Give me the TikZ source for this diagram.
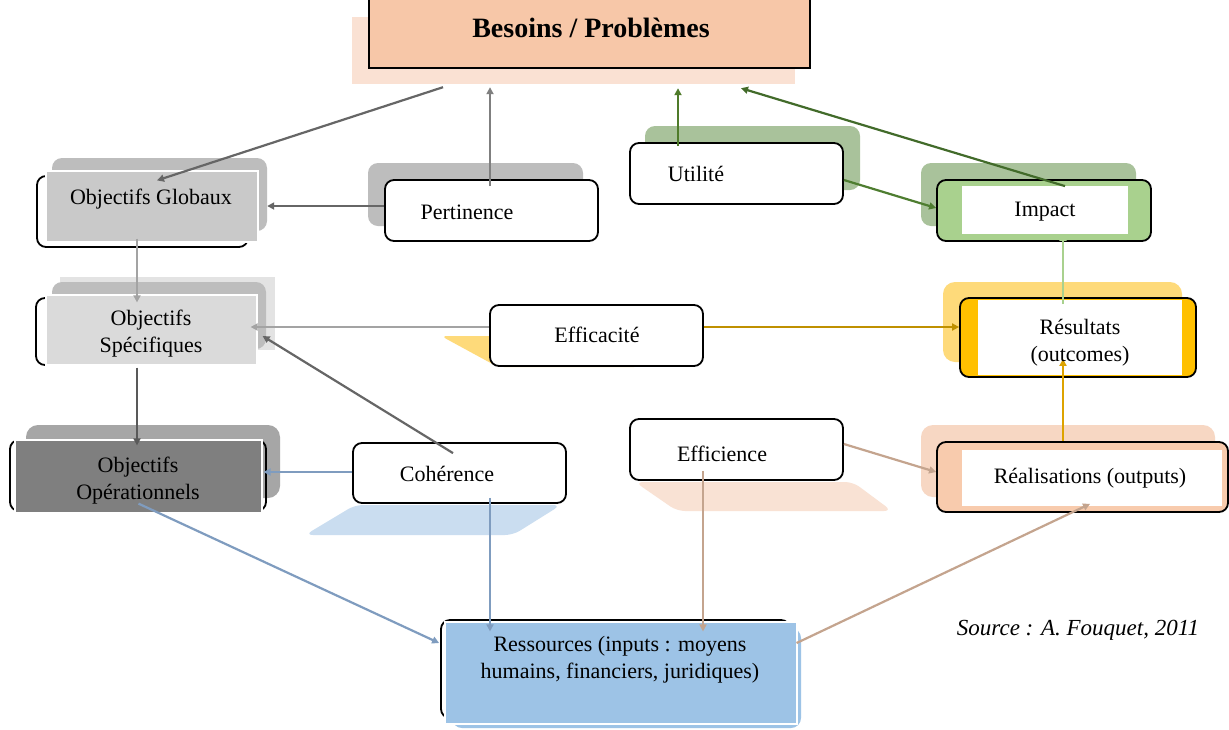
\documentclass[tikz,border=0pt]{standalone}
\usepackage{fontspec}
\setmainfont{Liberation Serif}
\usetikzlibrary{arrows.meta,calc}
\definecolor{peach}{HTML}{F7C7A8}
\definecolor{peachL}{HTML}{FAE1D3}
\definecolor{grA}{HTML}{BDBDBD}
\definecolor{grB}{HTML}{C9C9C9}
\definecolor{grC}{HTML}{E3E3E3}
\definecolor{grD}{HTML}{DADADA}
\definecolor{grE}{HTML}{A6A6A6}
\definecolor{grF}{HTML}{7F7F7F}
\definecolor{olive}{HTML}{A9C29B}
\definecolor{lgreen}{HTML}{A9D18E}
\definecolor{yelL}{HTML}{FEDA7A}
\definecolor{gold}{HTML}{FFC000}
\definecolor{realS}{HTML}{F7D7C3}
\definecolor{realF}{HTML}{F8CBAD}
\definecolor{cohP}{HTML}{CADDF0}
\definecolor{efiP}{HTML}{F9E2D4}
\definecolor{blueF}{HTML}{9DC3E6}
\definecolor{aDark}{HTML}{666666}
\definecolor{aMid}{HTML}{7F7F7F}
\definecolor{aLight}{HTML}{A3A3A3}
\definecolor{aDarker}{HTML}{595959}
\definecolor{gUp}{HTML}{4F7B2A}
\definecolor{gImp}{HTML}{426B2A}
\definecolor{gSide}{HTML}{4E7D30}
\definecolor{aGold}{HTML}{BF9000}
\definecolor{aOr}{HTML}{DDA300}
\definecolor{aBlue}{HTML}{7F9CBF}
\definecolor{aTan}{HTML}{C4A48E}
\begin{document}
\begin{tikzpicture}[x=1pt,y=-1pt,
  sh/.style={inner sep=0pt, rounded corners=10pt},
  bx/.style={inner sep=0pt, draw=black, line width=1.8pt, rounded corners=9pt},
  fr/.style={inner sep=0pt, draw=white, line width=1.2pt},
  tx/.style={inner sep=0pt, font=\fontsize{22}{27}\selectfont, align=center},
  ar/.style={line width=2.2pt, -{Triangle[length=7pt,width=7pt]}},
]
\useasboundingbox[fill=white] (0,0) rectangle (1229,729);

% ---------- Besoins / Problemes
\node[inner sep=0pt, fill=peachL, minimum width=443pt, minimum height=67pt] (besS) at (573.5,50.5) {};
\node[inner sep=0pt, draw=black, line width=1.8pt, fill=peach, minimum width=441pt, minimum height=76pt] (bes) at (589.5,30) {};

% ---------- Objectifs Globaux
\node[sh, fill=grA, minimum width=215pt, minimum height=73pt] (ogS) at (159.5,194.5) {};
\node[bx, minimum width=211pt, minimum height=71pt] (ogB) at (142.5,211.5) {};
\node[fr, fill=grB, minimum width=212pt, minimum height=71pt] (og) at (152,206.5) {};

% ---------- Objectifs Specifiques
\node[inner sep=0pt, fill=grC, minimum width=215pt, minimum height=73pt] (osL) at (167.5,313.5) {};
\node[sh, fill=grA, minimum width=214pt, minimum height=67pt] (osS) at (159,315.5) {};
\node[bx, minimum width=211pt, minimum height=67pt] (osB) at (141.5,331.5) {};
\node[fr, fill=grD, minimum width=211pt, minimum height=70pt] (os) at (151.5,330) {};

% ---------- Objectifs Operationnels
\node[sh, rounded corners=12pt, fill=grE, minimum width=254pt, minimum height=73pt] (ooS) at (153,461.5) {};
\node[bx, minimum width=256pt, minimum height=71pt] (ooB) at (138,475.5) {};
\node[fr, fill=grF, minimum width=247pt, minimum height=73pt] (oo) at (138.5,476.5) {};

% ---------- Pertinence
\node[sh, fill=grA, minimum width=215pt, minimum height=63pt] (pertS) at (475.5,194.5) {};
\node[bx, fill=white, minimum width=213pt, minimum height=61pt] (pert) at (491.5,210.5) {};

% ---------- Utilite
\node[sh, fill=olive, minimum width=215pt, minimum height=64pt] (utilS) at (752.5,158) {};
\node[bx, fill=white, minimum width=213pt, minimum height=61pt] (util) at (736.5,173.5) {};

% ---------- Impact
\node[sh, fill=olive, minimum width=215pt, minimum height=63pt] (impS) at (1028.5,194.5) {};
\node[bx, fill=lgreen, minimum width=214pt, minimum height=61pt] (imp) at (1044,210.5) {};
\node[inner sep=0pt, fill=white, minimum width=166pt, minimum height=48pt] (impW) at (1045,210) {};

% ---------- Resultats
\node[sh, rounded corners=12pt, fill=yelL, minimum width=239pt, minimum height=80pt] (resS) at (1062.5,322) {};
\node[bx, fill=gold, minimum width=236pt, minimum height=79pt] (res) at (1078,337.5) {};
\node[inner sep=0pt, fill=white, minimum width=204pt, minimum height=75pt] (resW) at (1080,337.5) {};

% ---------- Realisations
\node[sh, rounded corners=12pt, fill=realS, minimum width=294pt, minimum height=72pt] (realSh) at (1068,461) {};
\node[bx, fill=realF, minimum width=291pt, minimum height=70pt] (real) at (1082.5,477) {};
\node[inner sep=0pt, fill=white, minimum width=260pt, minimum height=56pt] (realW) at (1092,478) {};

% ---------- Efficacite
\fill[yelL, rounded corners=6pt] (441,336) -- (640,336) -- (640,367) -- (498,367) -- cycle;
\node[bx, fill=white, minimum width=213pt, minimum height=61pt] (effic) at (596.5,335.5) {};

% ---------- Coherence
\fill[cohP, rounded corners=8pt] (355,505) -- (561,505) -- (513,535) -- (305,535) -- cycle;
\node[bx, fill=white, minimum width=213pt, minimum height=60pt] (coh) at (459.5,473) {};

% ---------- Efficience
\fill[efiP, rounded corners=8pt] (635,482) -- (853,482) -- (892,511) -- (677,511) -- cycle;
\node[bx, fill=white, minimum width=213pt, minimum height=61pt] (efi) at (736.5,449.5) {};

% ---------- Ressources
\node[sh, fill=blueF, minimum width=349pt, minimum height=100pt] (ressS) at (626.5,678) {};
\node[bx, minimum width=349pt, minimum height=98pt] (ressB) at (615.5,669) {};
\node[fr, fill=blueF, minimum width=352pt, minimum height=102pt] (ress) at (621,673) {};

% ---------- connectors
\draw[ar, aDark] ([xshift=-130.5pt,yshift=-3pt]besS.south) -- ([xshift=5pt,yshift=-10pt]og.north);
\draw[ar, aMid] ([xshift=-1.5pt,yshift=-7pt]pert.north) -- ([xshift=-83.5pt,yshift=-3pt]besS.south);
\draw[ar, aDark] ([yshift=4.5pt]pert.west) -- ([yshift=4.5pt]pert.west -| ogS.east);
\draw[ar, gUp] ([xshift=-58.5pt,yshift=-4pt]util.north) -- ([xshift=104.5pt,yshift=-4pt]besS.south);
\draw[ar, gImp] ([xshift=21pt,yshift=-7pt]imp.north) -- ([xshift=167.5pt,yshift=-4pt]besS.south);
\draw[ar, gSide] ([yshift=-6.5pt]util.east) -- ([yshift=2.5pt]imp.west);
\draw[ar, aLight] ([xshift=-15pt,yshift=4pt]og.south) -- ([xshift=-14.5pt,yshift=-8pt]os.north);
\draw[ar, aLight] ([yshift=8.5pt]effic.west) -- ([xshift=-7pt,yshift=3pt]os.east);
\draw[ar, aDark] ([xshift=-6.5pt,yshift=-11pt]coh.north) -- ([xshift=5pt,yshift=-6pt]os.east);
\draw[ar, aGold] ([yshift=8.5pt]effic.east) -- ([yshift=8.5pt]effic.east -| res.west);
\draw[ar, lgreen] ([xshift=-15pt,yshift=-7pt]res.north) -- ([xshift=19pt,yshift=8pt]imp.south);
\draw[ar, aDarker] ([xshift=-14.5pt,yshift=-2pt]os.south) -- ([xshift=-1.5pt,yshift=-6pt]oo.north);
\draw[ar, aBlue] ([yshift=1pt]coh.west) -- ([xshift=1pt,yshift=4.5pt]oo.east);
\draw[ar, aOr] ([xshift=-19.5pt]real.north) -- ([xshift=-15pt,yshift=19pt]res.south);
\draw[ar, aTan] ([yshift=5.5pt]efi.east) -- ([yshift=5pt]real.west);
\draw[ar, aBlue] ([yshift=10pt]oo.south) -- ([xshift=-1pt,yshift=26pt]ressB.west);
\draw[ar, aBlue] ([xshift=30.5pt,yshift=6pt]coh.south) -- ([xshift=-131pt,yshift=-10pt]ress.north);
\draw[ar, aTan] ([xshift=-33.5pt,yshift=10pt]efi.south) -- ([xshift=82pt,yshift=-10pt]ress.north);
\draw[ar, aTan] ([xshift=-1pt,yshift=30pt]ress.east) -- ([xshift=7.5pt,yshift=9pt]real.south);

% ---------- texts
\node[inner sep=0pt, font=\fontsize{28}{32}\selectfont\bfseries] (besT) at (591,28) {Besoins / Problèmes};
\node[tx] (ogT) at (151,199) {Objectifs Globaux};
\node[tx] (osT) at (151,334) {Objectifs\\Spécifiques};
\node[tx] (ooT) at (138,481) {Objectifs\\Opérationnels};
\node[tx] (pertT) at (467,212) {Pertinence};
\node[tx] (utilT) at (696,174) {Utilité};
\node[tx] (impT) at (1045,212) {Impact};
\node[tx] (resT) at (1080,343) {Résultats\\(outcomes)};
\node[tx] (realT) at (1090,478) {Réalisations (outputs)};
\node[tx] (efficT) at (597,335) {Efficacité};
\node[tx] (cohT) at (447,474) {Cohérence};
\node[tx] (efiT) at (722,454) {Efficience};
\node[tx] (ressT) at (620,660) {Ressources (inputs : moyens\\humains, financiers, juridiques)};
\node[inner sep=0pt, font=\fontsize{23}{27}\selectfont\itshape] (src) at (1078,630) {Source : A. Fouquet, 2011};
\end{tikzpicture}
\end{document}
